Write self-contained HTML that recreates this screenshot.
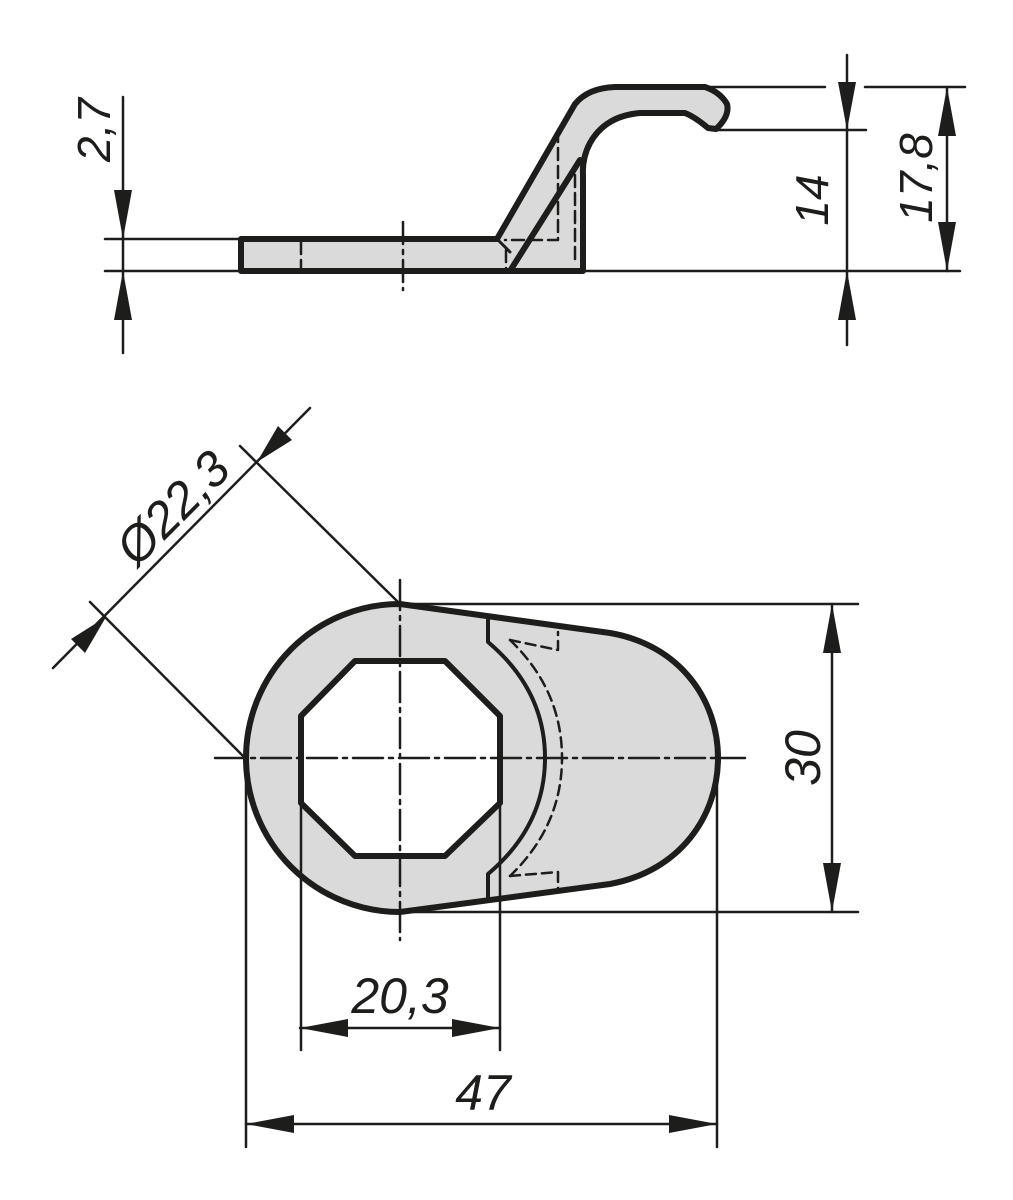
<!DOCTYPE html>
<html><head><meta charset="utf-8"><style>html,body{margin:0;padding:0;background:#fff}svg{display:block}text{font-family:"Liberation Sans",sans-serif;font-style:italic;fill:#1d1d1b}</style></head>
<body>
<svg width="1013" height="1200" viewBox="0 0 1013 1200" xmlns="http://www.w3.org/2000/svg">
<g stroke="#1d1d1b" fill="none" stroke-linecap="round" stroke-linejoin="round">
<!-- SIDE VIEW -->
<!-- flat plate -->
<path d="M241,239 L497,239 L575,104 Q588,88 615,87 L705,87 Q720,92 727,104 Q730,116 716,129 L708,128 Q695,117 685,113 L640,113 Q605,116 590,143 Q582,158 583,175 L583,271 L241,271 Z" fill="#dadada" stroke-width="6"/>
<path d="M510,271 L580,160" stroke-width="6"/>
<path d="M497,239 L510,252" stroke-width="3"/>
<g stroke-width="2.5" stroke-dasharray="12,6">
<path d="M558,130 L558,240 L505,240"/>
<path d="M575,175 L575,260"/>
<path d="M506,250 L506,271"/>
<path d="M301,242 L301,270"/>
</g>
<path d="M403,222 L403,290" stroke-width="2.5" stroke-dasharray="22,6,4,6"/>
<!-- dim lines side -->
<g stroke-width="2.5">
<path d="M105,239 L241,239"/>
<path d="M105,271 L960,271"/>
<path d="M123,97 L123,353"/>
<path d="M615,87 L825,87"/>
<path d="M865,87 L965,87"/>
<path d="M716,130 L866,130"/>
<path d="M847,55 L847,345"/>
<path d="M947,87 L947,271"/>
</g>
</g>
<g fill="#1d1d1b">
<path d="M123,239 L114,190 L132,190 Z"/>
<path d="M123,271 L114,320 L132,320 Z"/>
<path d="M847,130 L838,82 L856,82 Z"/>
<path d="M847,271 L838,320 L856,320 Z"/>
<path d="M947,87 L938,136 L956,136 Z"/>
<path d="M947,271 L938,222 L956,222 Z"/>
</g>
<text x="0" y="0" font-size="46" text-anchor="middle" transform="translate(110,130) rotate(-90)">2,7</text>
<text x="0" y="0" font-size="46" text-anchor="middle" transform="translate(828,200) rotate(-90)">14</text>
<text x="0" y="0" font-size="46" text-anchor="middle" transform="translate(932,178) rotate(-90)">17,8</text>

<!-- TOP VIEW -->
<g stroke="#1d1d1b" fill="none" stroke-linecap="round" stroke-linejoin="round">
<path d="M400,604 L610,633 C680,645 718,700 718,758 C718,816 680,871 610,884 L400,912 A154,154 0 0 1 400,604 Z" fill="#dadada" stroke-width="6"/>
<path d="M355,661 L445,661 L500,716 L500,803 L445,856 L355,856 L301,803 L301,716 Z" fill="#fff" stroke-width="6"/>
<path d="M488,620 L488,642 Q545,690 545,758 Q545,826 488,874 L488,897" stroke-width="4"/>
<g stroke-width="2.5" stroke-dasharray="10,6">
<path d="M510,640 L558,650 L558,632"/>
<path d="M510,640 Q562,690 562,758 Q562,826 510,876"/>
<path d="M510,876 L558,872 L558,888"/>
</g>
<g stroke-width="2.5" stroke-dasharray="30,6,4,6">
<path d="M215,758 L745,758"/>
<path d="M400,580 L400,940"/>
</g>
<g stroke-width="2.5">
<path d="M400,604 L240,446"/>
<path d="M245,758 L90,602"/>
<path d="M310,408 L53,668"/>
<path d="M400,604 L858,604"/>
<path d="M400,912 L858,912"/>
<path d="M832,604 L832,912"/>
<path d="M246,758 L246,1147"/>
<path d="M717,758 L717,1147"/>
<path d="M301,803 L301,1050"/>
<path d="M500,803 L500,1050"/>
<path d="M300,1028 L500,1028"/>
<path d="M246,1124 L717,1124"/>
</g>
</g>
<g fill="#1d1d1b">
<path d="M257,462 L278,426 L292,440 Z"/>
<path d="M106,617 L85,653 L71,639 Z"/>
<path d="M832,604 L823,653 L841,653 Z"/>
<path d="M832,912 L823,863 L841,863 Z"/>
<path d="M300,1028 L348,1019 L348,1037 Z"/>
<path d="M500,1028 L452,1019 L452,1037 Z"/>
<path d="M246,1124 L294,1115 L294,1133 Z"/>
<path d="M717,1124 L669,1115 L669,1133 Z"/>
</g>
<text x="0" y="0" font-size="50" text-anchor="middle" transform="translate(185,520) rotate(-45)">Ø22,3</text>
<text x="0" y="0" font-size="50" text-anchor="middle" transform="translate(820,758) rotate(-90)">30</text>
<text x="400" y="1013" font-size="50" text-anchor="middle">20,3</text>
<text x="483" y="1110" font-size="50" text-anchor="middle">47</text>
</svg>
</body></html>
